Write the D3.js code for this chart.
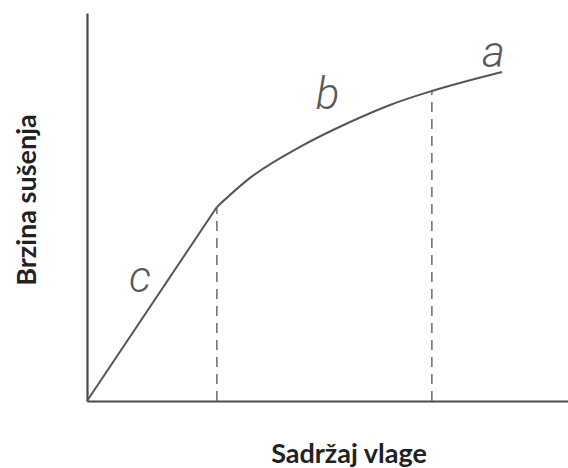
<!DOCTYPE html>
<html>
<head>
	<script src="https://cdn.jsdelivr.net/npm/d3@7"></script>
	<style>
		html, body {
			padding: 0;
			margin: 0;
			background: white;
		}
	</style>
</head>
<body>
	<div id="chart"></div>
	<script>
		// moisture content (x) vs drying rate (y), arbitrary units 0-100
		var segC_x = [0, 27];
		var segC_y = [0, 50];
		var segB_x = [27, 33.9, 44.3, 54.7, 63, 71.7, 86.3];
		var segB_y = [50, 57.5, 65.5, 71.9, 76.3, 79.9, 84.8];
		var dropX = [27, 71.7];
		var dropY = [50, 79.9];
		var labelText = ["a", "b", "c"];
		var labelX = [84.5, 50, 11];
		var labelY = [90, 79, 32];
		var xTitle = "Sadržaj vlage";
		var yTitle = "Brzina sušenja";

		var width = 568, height = 468;
		var margin = {top: 13, right: 0, bottom: 67, left: 87};

		var svg = d3.select('#chart').append('svg')
			.attr('width', width)
			.attr('height', height)
			.style('background-color', 'white');

		var x = d3.scaleLinear().domain([0, 100]).range([margin.left, width - margin.right]);
		var y = d3.scaleLinear().domain([0, 100]).range([height - margin.bottom, margin.top]);

		var ink = '#4a4a4a';

		// axes: plain lines, no ticks
		var xAxis = d3.axisBottom(x).tickValues([]).tickSizeOuter(0);
		var yAxis = d3.axisLeft(y).tickValues([]).tickSizeOuter(0);
		svg.append('g').attr('transform', 'translate(0,' + y(0) + ')').call(xAxis)
			.select('.domain').attr('stroke', ink).attr('stroke-width', 2.2);
		svg.append('g').attr('transform', 'translate(' + x(0) + ',0)').call(yAxis)
			.select('.domain').attr('stroke', ink).attr('stroke-width', 2.2);

		// dashed drop lines
		svg.selectAll('line.drop')
			.data(dropX)
			.enter().append('line')
			.attr('class', 'drop')
			.attr('x1', function(d) { return x(d); })
			.attr('x2', function(d) { return x(d); })
			.attr('y1', y(0))
			.attr('y2', function(d, i) { return y(dropY[i]); })
			.attr('stroke', '#6b6b6b')
			.attr('stroke-width', 1.5)
			.attr('stroke-dasharray', '10,7');

		// curve: straight part c, then curved part b/a
		var line = d3.line()
			.x(function(d) { return x(d[0]); })
			.y(function(d) { return y(d[1]); });

		svg.append('path')
			.datum(d3.zip(segC_x, segC_y))
			.attr('d', line)
			.attr('fill', 'none')
			.attr('stroke', '#555')
			.attr('stroke-width', 2);

		svg.append('path')
			.datum(d3.zip(segB_x, segB_y))
			.attr('d', line.curve(d3.curveMonotoneX))
			.attr('fill', 'none')
			.attr('stroke', '#555')
			.attr('stroke-width', 2);

		// handwritten letters
		svg.selectAll('text.seg')
			.data(labelText)
			.enter().append('text')
			.attr('class', 'seg')
			.attr('x', function(d, i) { return x(labelX[i]); })
			.attr('y', function(d, i) { return y(labelY[i]); })
			.attr('text-anchor', 'middle')
			.attr('dominant-baseline', 'central')
			.style('font', 'italic 300 44px Roboto, sans-serif')
			.attr('fill', '#5a5a5a')
			.text(function(d) { return d; });

		// axis titles
		svg.append('text')
			.attr('x', 349)
			.attr('y', 463)
			.attr('text-anchor', 'middle')
			.style('font', 'bold 27px Lato, sans-serif')
			.attr('fill', '#222')
			.text(xTitle);

		svg.append('text')
			.attr('transform', 'translate(36,200) rotate(-90)')
			.attr('text-anchor', 'middle')
			.style('font', 'bold 27px Lato, sans-serif')
			.attr('fill', '#222')
			.text(yTitle);
	</script>
</body>
</html>
